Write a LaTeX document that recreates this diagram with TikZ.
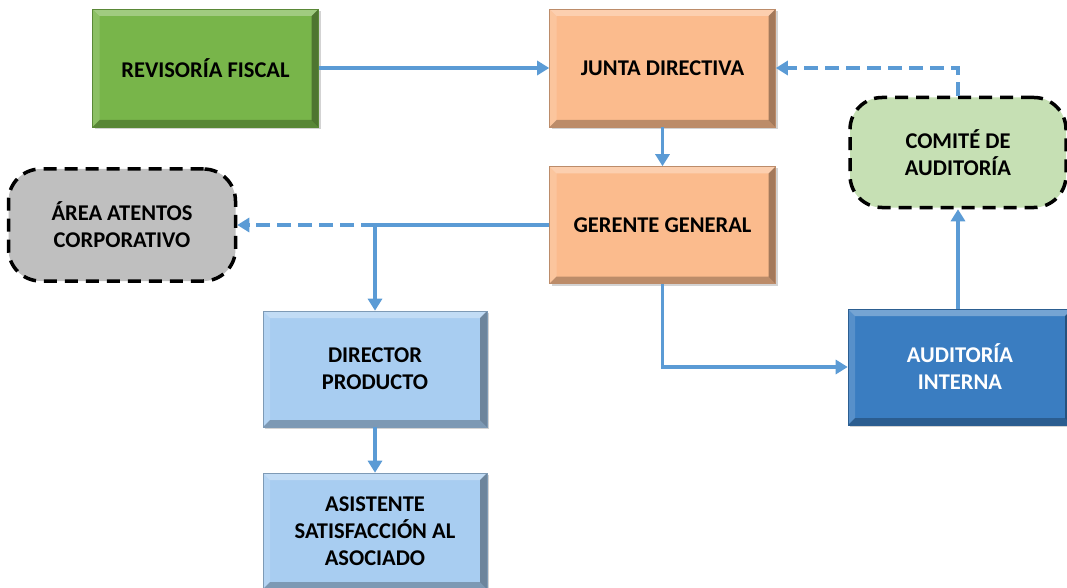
\documentclass[tikz,border=0pt]{standalone}
\usepackage{fontspec}
\setmainfont{Carlito}
\usetikzlibrary{arrows.meta,shadows}

\definecolor{revgreen}{HTML}{78B54A}
\definecolor{juntaorange}{HTML}{FBBB8D}
\definecolor{prodblue}{HTML}{A8CDF1}
\definecolor{audblue}{HTML}{3A7DC1}
\definecolor{comitegreen}{HTML}{C6E0B4}
\definecolor{areagray}{HTML}{BFBFBF}
\definecolor{linkblue}{HTML}{5B9BD5}

\begin{document}
\begin{tikzpicture}[
		x=1pt, y=-1pt,
		bevel/.style={path picture={
					\def\bb{path picture bounding box}
					\fill[white,opacity=0.3] (\bb.north west) -- (\bb.north east) -- ([shift={(-7pt,-7pt)}]\bb.north east) -- ([shift={(7pt,-7pt)}]\bb.north west) -- cycle;
					\fill[white,opacity=0.15] (\bb.north west) -- (\bb.south west) -- ([shift={(7pt,7pt)}]\bb.south west) -- ([shift={(7pt,-7pt)}]\bb.north west) -- cycle;
					\fill[black,opacity=0.25] (\bb.south west) -- (\bb.south east) -- ([shift={(-7pt,7pt)}]\bb.south east) -- ([shift={(7pt,7pt)}]\bb.south west) -- cycle;
					\fill[black,opacity=0.35] (\bb.north east) -- (\bb.south east) -- ([shift={(-7pt,7pt)}]\bb.south east) -- ([shift={(-7pt,-7pt)}]\bb.north east) -- cycle;
				}},
		box/.style={rectangle, fill=#1, draw=#1!75!black, line width=0.6pt,
				minimum width=226pt, minimum height=118pt, align=center,
				font=\fontsize{22.5}{27}\selectfont\bfseries, bevel,
				drop shadow={shadow xshift=2pt, shadow yshift=-2pt, opacity=0.35}},
		roundbox/.style={rectangle, rounded corners=32pt, fill=#1, draw=black,
				line width=3.5pt, dash pattern=on 13pt off 8pt,
				align=center, font=\fontsize{22.5}{27}\selectfont\bfseries},
		conn/.style={draw=linkblue, line width=3.5pt, -{Triangle[length=12pt,width=14pt]}},
		dashconn/.style={conn, dash pattern=on 14pt off 7pt}
	]
	\useasboundingbox (0,0) rectangle (1067,588);

	% nodes
	\node[box=revgreen] (revisoria) at (205.5,68) {REVISORÍA FISCAL};
	\node[box=juntaorange] (junta) at (662.5,68) {JUNTA DIRECTIVA};
	\node[box=juntaorange, minimum height=117pt] (gerente) at (662.5,225) {GERENTE GENERAL};
	\node[roundbox=comitegreen, minimum width=216pt, minimum height=110pt] (comite) at (958,152.5) {COMITÉ DE\\AUDITORÍA};
	\node[roundbox=areagray, minimum width=227pt, minimum height=112pt] (area) at (122,225) {ÁREA ATENTOS\\CORPORATIVO};
	\node[box=prodblue, minimum width=224pt, minimum height=116pt] (director) at (375,369) {DIRECTOR\\PRODUCTO};
	\node[box=audblue, text=white, minimum width=224pt, minimum height=116pt] (auditoria) at (960,367) {AUDITORÍA\\INTERNA};
	\node[box=prodblue, minimum width=224pt, minimum height=116pt] (asistente) at (375,531) {ASISTENTE\\SATISFACCIÓN AL\\ASOCIADO};

	% connectors
	\coordinate (split) at (director.north |- gerente.west);
	\draw[conn] (revisoria) -- (junta);
	\draw[conn] (junta) -- (gerente);
	\draw[dashconn] (comite.north) |- (junta.east);
	\draw[draw=linkblue, line width=3.5pt] (gerente.west) -- (split);
	\draw[dashconn] (split) -- (area.east);
	\draw[conn] (split) -- (director.north);
	\draw[conn] (gerente.south) |- (auditoria.west);
	\draw[conn] (auditoria.north -| comite.north) -- (comite.south);
	\draw[conn] (director) -- (asistente);
\end{tikzpicture}
\end{document}
